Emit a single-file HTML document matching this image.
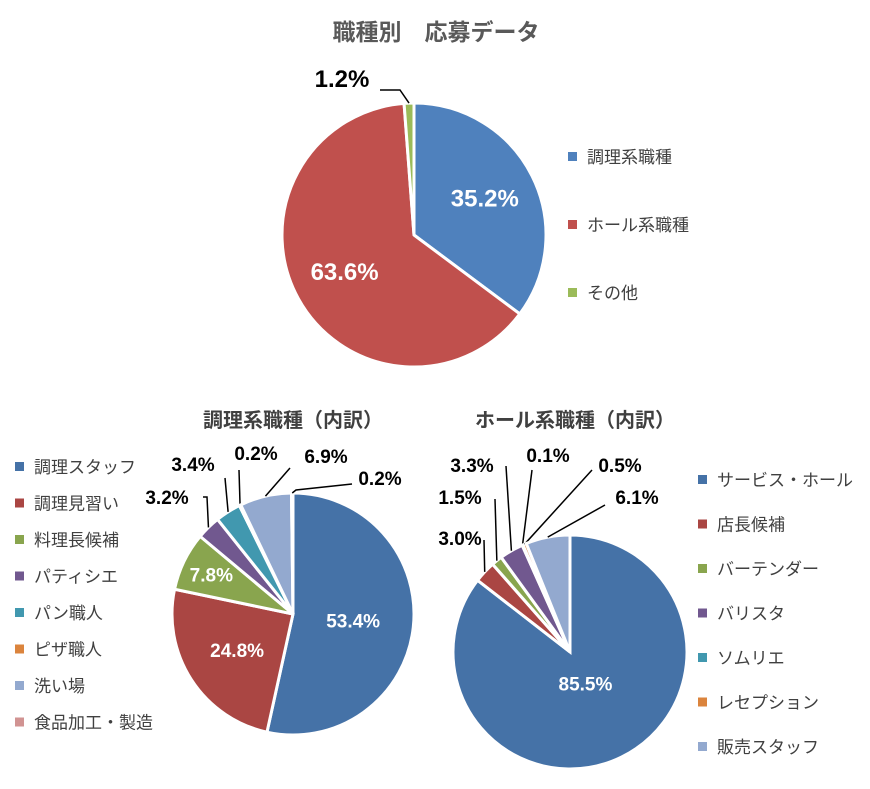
<!DOCTYPE html>
<html><head><meta charset="utf-8"><style>
body{margin:0;background:#fff;}
svg text{font-family:"Liberation Sans","Noto Sans CJK JP",sans-serif;}
</style></head><body>
<svg id="c" width="870" height="784" xmlns="http://www.w3.org/2000/svg">
<text x="436" y="40" text-anchor="middle" font-size="23" font-weight="bold" fill="#595959">職種別　応募データ</text>
<text x="293" y="427" text-anchor="middle" font-size="20" font-weight="bold" fill="#404040">調理系職種（内訳）</text>
<text x="575" y="427" text-anchor="middle" font-size="20" font-weight="bold" fill="#404040">ホール系職種（内訳）</text>
</svg>
<script>
const mainCats=["調理系職種","ホール系職種","その他"];
const mainVals=[35.2,63.6,1.2];
const cookCats=["調理スタッフ","調理見習い","料理長候補","パティシエ","パン職人","ピザ職人","洗い場","食品加工・製造"];
const cookVals=[53.4,24.8,7.8,3.2,3.4,0.2,6.9,0.2];
const hallCats=["サービス・ホール","店長候補","バーテンダー","バリスタ","ソムリエ","レセプション","販売スタッフ"];
const hallVals=[85.5,3.0,1.5,3.3,0.1,0.5,6.1];
const mainColors=["#4F81BD","#C0504D","#9BBB59"];
const subColors=["#4572A7","#AA4643","#89A54E","#71588F","#4198AF","#DB843D","#93A9CF","#D19392"];
const svg=document.getElementById('c');
const NS="http://www.w3.org/2000/svg";
function mk(t,a){const e=document.createElementNS(NS,t);for(const k in a)e.setAttribute(k,a[k]);svg.appendChild(e);return e;}
function pie(name,cx,cy,r,vals,colors,inside,outside,size){
  const tot=vals.reduce((a,b)=>a+b,0);let a0=0;
  vals.forEach((v,i)=>{
    const a1=a0+v/tot*2*Math.PI;
    const x0=cx+r*Math.sin(a0),y0=cy-r*Math.cos(a0),x1=cx+r*Math.sin(a1),y1=cy-r*Math.cos(a1);
    const p=mk('path',{d:`M${cx},${cy}L${x0},${y0}A${r},${r} 0 ${a1-a0>Math.PI?1:0} 1 ${x1},${y1}Z`,fill:colors[i],stroke:'#fff','stroke-width':3});
    
    
    const m=(a0+a1)/2;
    if(inside[i]){
      const t=mk('text',{x:cx+r*inside[i]*Math.sin(m),y:cy-r*inside[i]*Math.cos(m)+7,'text-anchor':'middle','font-size':size,'font-weight':'bold',fill:'#fff'});
      t.textContent=v.toFixed(1)+'%';
      
      
    } else if(outside[i]){
      const o=outside[i];
      const ex=cx+r*Math.sin(m),ey=cy-r*Math.cos(m);
      const l=mk('polyline',{points:`${o[2]},${o[3]} ${o[4]},${o[5]} ${ex},${ey}`,fill:'none',stroke:'#000','stroke-width':1.5});
      
      
      const t=mk('text',{x:o[0],y:o[1]+7,'text-anchor':'middle','font-size':size,'font-weight':'bold',fill:'#000'});
      t.textContent=v.toFixed(1)+'%';
      
      
    }
    a0=a1;
  });
}
function legend(name,x,y,dy,cats,colors){
  cats.forEach((c,i)=>{
    const r=mk('rect',{x:x,y:y+i*dy-5,width:9,height:9,fill:colors[i]});
    
    
    const t=mk('text',{x:x+19,y:y+i*dy+6,'font-size':17,fill:'#404040'});
    t.textContent=c;
    
    
  });
}
pie('main',414,235,132,mainVals,mainColors,[0.6,0.6,0],[null,null,[342,80,380,90,400,90]],24);
pie('cook',293,614,121,cookVals,subColors,[0.5,0.55,0.75,0,0,0,0,0],
 [null,null,null,[167,497,203,497,207,497],[193,464,225,478,225,478],[256,453,239,470,239,470],[326,456,290,468,290,468],[380,478,352,484,296,490]],19);
legend('cook',15,467,36.5,cookCats,subColors);
pie('hall',570,652,117,hallVals,subColors,[0.3,0,0,0,0,0,0],
 [null,[460,538,484,540,484,540],[460,497,495,499,495,499],[472,465,506,466,506,466],[548,455,532,470,532,470],[620,465,592,470,592,470],[637,497,605,505,605,505]],19);
legend('hall',698,480,44.5,hallCats,subColors);
legend('main',568,157,68,mainCats,mainColors);
</script>
</body></html>
